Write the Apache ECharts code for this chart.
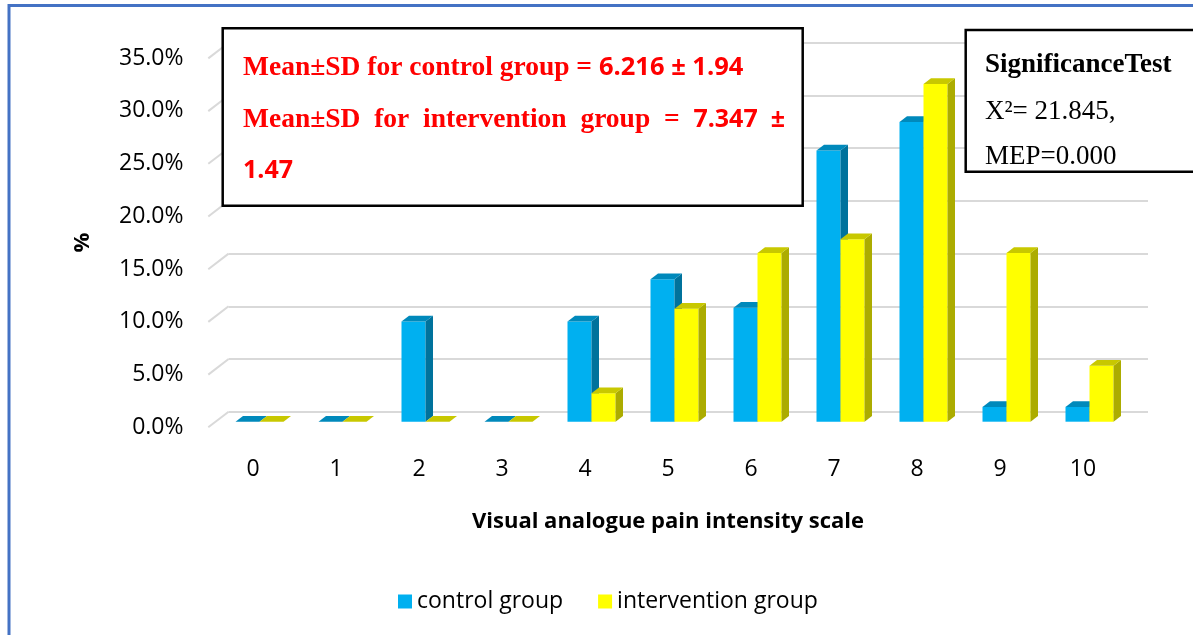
<!DOCTYPE html>
<html>
<head>
<meta charset="utf-8">
<title>Visual analogue pain intensity scale</title>
<script src="https://cdn.jsdelivr.net/npm/echarts@6/dist/echarts.min.js"></script>
<style>
  html, body { margin: 0; padding: 0; background: #fff; }
  #chart { width: 1193px; height: 635px; }
</style>
</head>
<body>
<div id="chart"></div>
<script>
// pain scores 0..10
var categories = ['0', '1', '2', '3', '4', '5', '6', '7', '8', '9', '10'];
// percent of patients per score
var controlGroup = [0, 0, 9.5, 0, 9.5, 13.5, 10.8, 25.7, 28.4, 1.4, 1.4];
var interventionGroup = [0, 0, 0, 0, 2.7, 10.7, 16.0, 17.3, 32.0, 16.0, 5.3];
var yTicks = [0, 5, 10, 15, 20, 25, 30, 35];

var SANS = '"Open Sans", sans-serif';
var SERIF = '"Liberation Serif", "Times New Roman", serif';

// fake 3d: bar plane sits a bit behind the front edge
var BAR_W = 24;
var SHIFT_X = 6.5, SHIFT_Y = 5.6;   // front edge -> bar plane
var DEPTH_X = 7.5, DEPTH_Y = 5.7;   // bar depth
var WALL_X = 20.3, WALL_Y = 15.6;   // back wall -> front edge

function bar3d(slot, front, side, top) {
  return function (params, api) {
    var cat = api.value(0);
    var val = api.value(1);
    var base = api.coord([cat, 0]);
    var head = api.coord([cat, val]);
    var x0 = base[0] + SHIFT_X + (slot === 0 ? -BAR_W : 0);
    var x1 = x0 + BAR_W;
    var yb = base[1] - SHIFT_Y;
    var yt = head[1] - SHIFT_Y;
    var children = [];
    if (yb - yt > 0.5) {
      children.push({
        type: 'rect',
        shape: { x: x0, y: yt, width: BAR_W, height: yb - yt },
        style: { fill: front }
      });
      children.push({
        type: 'polygon',
        shape: { points: [[x1, yt], [x1 + DEPTH_X, yt - DEPTH_Y], [x1 + DEPTH_X, yb - DEPTH_Y], [x1, yb]] },
        style: { fill: side }
      });
    }
    children.push({
      type: 'polygon',
      shape: { points: [[x0, yt], [x1, yt], [x1 + DEPTH_X, yt - DEPTH_Y], [x0 + DEPTH_X, yt - DEPTH_Y]] },
      style: { fill: top }
    });
    return { type: 'group', children: children };
  };
}

var chart = echarts.init(document.getElementById('chart'));

var option = {
  backgroundColor: '#ffffff',
  animation: false,
  textStyle: { fontFamily: SANS },
  grid: [
    // front edge: labels + bars
    { left: 211.5, right: 68.5, top: 58, bottom: 207.7 },
    // back wall: gridlines
    { left: 228.6, right: 45, top: 42.8, bottom: 223.3 }
  ],
  legend: {
    left: 393,
    top: 585,
    icon: 'rect',
    itemWidth: 14,
    itemHeight: 14,
    itemGap: 35,
    textStyle: { fontFamily: SANS, fontSize: 23, color: '#000' },
    data: ['control group', 'intervention group']
  },
  xAxis: [
    {
      type: 'category',
      gridIndex: 0,
      data: categories,
      axisLine: { show: false },
      axisTick: { show: false },
      axisLabel: { margin: 31, fontSize: 23, color: '#000', fontFamily: SANS },
      name: 'Visual analogue pain intensity scale',
      nameLocation: 'middle',
      nameGap: 83,
      nameTextStyle: { fontFamily: SANS, fontSize: 22, fontWeight: 'bold', color: '#000' }
    },
    {
      type: 'value',
      gridIndex: 1,
      min: 0,
      max: 1,
      show: false
    }
  ],
  yAxis: [
    {
      type: 'value',
      gridIndex: 0,
      min: 0,
      max: 35,
      interval: 5,
      axisLine: { show: false },
      axisTick: { show: false },
      splitLine: { show: false },
      axisLabel: {
        margin: 28,
        fontSize: 23,
        color: '#000',
        fontFamily: SANS,
        formatter: function (v) { return v.toFixed(1) + '%'; }
      },
      name: '%',
      nameLocation: 'middle',
      nameRotate: 90,
      nameGap: 118,
      nameTextStyle: { fontFamily: SANS, fontSize: 22, fontWeight: 'bold', color: '#000' }
    },
    {
      type: 'value',
      gridIndex: 1,
      min: 0,
      max: 35,
      interval: 5,
      axisLine: { show: false },
      axisTick: { show: false },
      axisLabel: { show: false },
      splitLine: { show: true, lineStyle: { color: '#d9d9d9', width: 2 } }
    }
  ],
  series: [
    {
      // left side wall lines
      type: 'custom',
      xAxisIndex: 1,
      yAxisIndex: 1,
      silent: true,
      z: 1,
      data: yTicks.map(function (t) { return [0, t]; }),
      renderItem: function (params, api) {
        var p = api.coord([0, api.value(1)]);
        return {
          type: 'line',
          shape: { x1: p[0], y1: p[1], x2: p[0] - WALL_X, y2: p[1] + WALL_Y },
          style: { stroke: '#d9d9d9', lineWidth: 2 }
        };
      }
    },
    {
      name: 'control group',
      type: 'custom',
      xAxisIndex: 0,
      yAxisIndex: 0,
      z: 3,
      itemStyle: { color: '#00b0f0' },
      encode: { x: 0, y: 1 },
      data: controlGroup.map(function (v, i) { return [i, v]; }),
      renderItem: bar3d(0, '#00b0f0', '#00729c', '#0089bb')
    },
    {
      name: 'intervention group',
      type: 'custom',
      xAxisIndex: 0,
      yAxisIndex: 0,
      z: 4,
      itemStyle: { color: '#ffff00' },
      encode: { x: 0, y: 1 },
      data: interventionGroup.map(function (v, i) { return [i, v]; }),
      renderItem: bar3d(1, '#ffff00', '#acac00', '#c8c800')
    }
  ],
  graphic: [
    // outer blue frame
    {
      type: 'rect',
      z: 100,
      shape: { x: 9, y: 5.5, width: 1300, height: 800 },
      style: { fill: 'none', stroke: '#4472c4', lineWidth: 3 }
    },
    // mean +- SD box
    {
      type: 'rect',
      z: 100,
      shape: { x: 222.7, y: 28.3, width: 580, height: 177.4 },
      style: { fill: '#fff', stroke: '#000', lineWidth: 2.5 }
    },
    {
      type: 'text',
      z: 101,
      x: 243,
      y: 68,
      style: {
        text: '{s|Mean±SD for control group = }{n|6.216 ± 1.94}',
        verticalAlign: 'middle',
        rich: {
          s: { fontFamily: SERIF, fontWeight: 'bold', fontSize: 27.5, fill: '#ff0000' },
          n: { fontFamily: SANS, fontWeight: 'bold', fontSize: 25.5, fill: '#ff0000' }
        }
      }
    },
    {
      type: 'text',
      z: 101,
      x: 243,
      y: 120,
      style: {
        text: '{s|Mean±SD  for  intervention  group  =  }{n|7.347  ±}',
        verticalAlign: 'middle',
        rich: {
          s: { fontFamily: SERIF, fontWeight: 'bold', fontSize: 27.5, fill: '#ff0000' },
          n: { fontFamily: SANS, fontWeight: 'bold', fontSize: 25, fill: '#ff0000' }
        }
      }
    },
    {
      type: 'text',
      z: 101,
      x: 243,
      y: 171,
      style: {
        text: '1.47',
        verticalAlign: 'middle',
        fontFamily: SANS,
        fontWeight: 'bold',
        fontSize: 25,
        fill: '#ff0000'
      }
    },
    // significance box
    {
      type: 'rect',
      z: 100,
      shape: { x: 965.7, y: 30, width: 300, height: 141.7 },
      style: { fill: '#fff', stroke: '#000', lineWidth: 2.5 }
    },
    {
      type: 'text',
      z: 101,
      x: 985,
      y: 65,
      style: { text: 'SignificanceTest', verticalAlign: 'middle', fontFamily: SERIF, fontWeight: 'bold', fontSize: 27, fill: '#000' }
    },
    {
      type: 'text',
      z: 101,
      x: 985,
      y: 112,
      style: { text: 'X²= 21.845,', verticalAlign: 'middle', fontFamily: SERIF, fontSize: 27, fill: '#000' }
    },
    {
      type: 'text',
      z: 101,
      x: 985,
      y: 157,
      style: { text: 'MEP=0.000', verticalAlign: 'middle', fontFamily: SERIF, fontSize: 27, fill: '#000' }
    }
  ]
};

chart.setOption(option);
</script>
</body>
</html>
